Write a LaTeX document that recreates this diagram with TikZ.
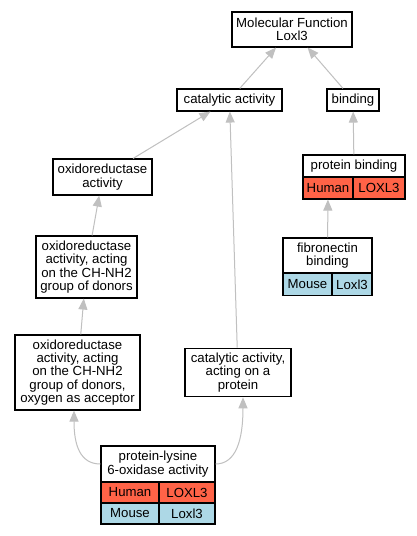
\documentclass[tikz,border=0pt]{standalone}
\usepackage{fontspec}
\setmainfont{Liberation Sans}
\usetikzlibrary{arrows.meta}
\definecolor{humanc}{HTML}{FF6347}
\definecolor{mousec}{HTML}{ADD8E6}
\definecolor{edgec}{HTML}{C0C0C0}
\begin{document}
\begin{tikzpicture}[x=1pt,y=-1pt,
  box/.style={draw=black, line width=1.1pt, fill=white, inner sep=0pt, align=center, font=\fontsize{13.2}{13.4}\selectfont},
  human/.style={box, fill=humanc},
  mouse/.style={box, fill=mousec},
  edge/.style={draw=edgec, line width=1pt, -{Triangle[length=11pt,width=9pt]}},
]
\useasboundingbox (0,0) rectangle (417,536);
\fill[white] (0,0) rectangle (417,536);

\node[box, minimum width=120pt, minimum height=35pt] (mf) at (292,29.5) {Molecular Function\\Loxl3};
\node[box, minimum width=105pt, minimum height=22pt] (cat) at (229.5,100) {catalytic activity};
\node[box, minimum width=52pt, minimum height=22pt] (bind) at (353,100) {binding};
\node[box, minimum width=99pt, minimum height=36pt] (oxr) at (102.5,177) {oxidoreductase\\activity};
\node[box, minimum width=101pt, minimum height=62pt] (chnh) at (86.5,267) {oxidoreductase\\activity, acting\\on the CH-NH2\\group of donors};
\node[box, minimum width=125pt, minimum height=75pt] (oxy) at (77.5,372.5) {oxidoreductase\\activity, acting\\on the CH-NH2\\group of donors,\\oxygen as acceptor};
\node[box, minimum width=106pt, minimum height=48.5pt] (catp) at (238,372.5) {catalytic activity,\\acting on a\\protein};

\node[box, minimum width=102pt, minimum height=22pt] (pbT) at (354,166) {protein binding};
\node[human, minimum width=50pt, minimum height=22pt] (pbH) at (328,188) {Human};
\node[human, minimum width=52pt, minimum height=22pt] (pbG) at (379,188) {LOXL3};

\node[box, minimum width=89pt, minimum height=35pt] (fibT) at (327.5,255.5) {fibronectin\\binding};
\node[mouse, minimum width=49pt, minimum height=22pt] (fibM) at (307.5,284.5) {Mouse};
\node[mouse, minimum width=40pt, minimum height=22pt] (fibG) at (352,284.5) {Loxl3};

\node[box, minimum width=114pt, minimum height=36pt] (plT) at (158,464) {protein-lysine\\6-oxidase activity};
\node[human, minimum width=58pt, minimum height=21pt] (plH) at (130,492.5) {Human};
\node[human, minimum width=56pt, minimum height=21pt] (plHG) at (187,492.5) {LOXL3};
\node[mouse, minimum width=58pt, minimum height=21pt] (plM) at (130,513.5) {Mouse};
\node[mouse, minimum width=56pt, minimum height=21pt] (plMG) at (187,513.5) {Loxl3};

\draw[edge] (cat) -- (mf);
\draw[edge] (bind) -- (mf);
\draw[edge] (oxr) -- (cat);
\draw[edge] (catp) -- (cat);
\draw[edge] (chnh) -- (oxr);
\draw[edge] (oxy) -- (chnh);
\draw[edge] (pbT) -- (bind);
\draw[edge] (fibT) -- (pbH);
\draw[edge] (plT.west) .. controls (80,464) and (74,445) .. ([xshift=-3.5pt]oxy.south);
\draw[edge] (plT.east) .. controls (236,464) and (243,440) .. ([xshift=5pt]catp.south);
\end{tikzpicture}
\end{document}
